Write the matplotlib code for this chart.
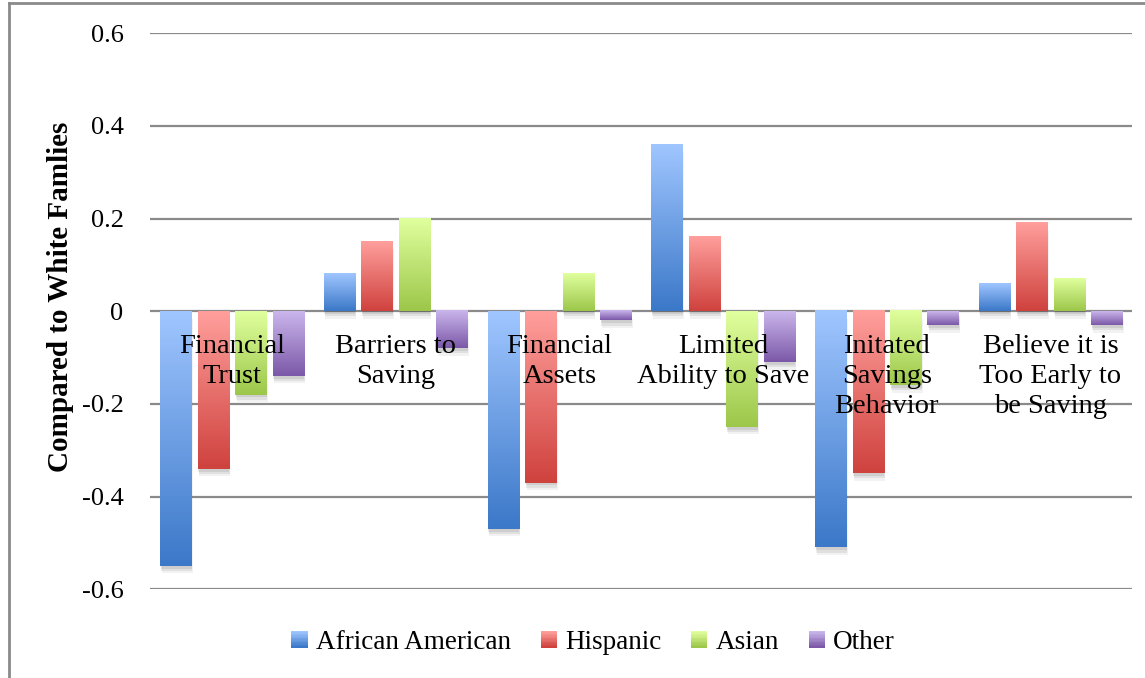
import matplotlib.pyplot as plt
import numpy as np
from matplotlib.colors import LinearSegmentedColormap
from matplotlib.patches import Rectangle
from matplotlib.legend_handler import HandlerBase
from matplotlib.lines import Line2D

categories = ['Financial\nTrust', 'Barriers to\nSaving', 'Financial\nAssets',
              'Limited\nAbility to Save', 'Initated\nSavings\nBehavior',
              'Believe it is\nToo Early to\nbe Saving']
groups = ['African American', 'Hispanic', 'Asian', 'Other']

african_american = [-0.55, 0.08, -0.47, 0.36, -0.51, 0.06]
hispanic = [-0.34, 0.15, -0.37, 0.16, -0.35, 0.19]
asian = [-0.18, 0.20, 0.08, -0.25, -0.16, 0.07]
other = [-0.14, -0.08, -0.02, -0.11, -0.03, -0.03]

yticks = [0.6, 0.4, 0.2, 0, -0.2, -0.4, -0.6]
ytick_labels = ['0.6', '0.4', '0.2', '0', '-0.2', '-0.4', '-0.6']

# light (top) -> dark (bottom) for each series
shades = [('#a0c6ff', '#3b78c8'),
          ('#ff9f9c', '#cf423e'),
          ('#e0ff9e', '#9cc74a'),
          ('#cbb6ec', '#7b58a8')]

plt.rcParams['font.family'] = ['Liberation Serif', 'DejaVu Serif']

fig = plt.figure(figsize=(11.45, 6.78), dpi=100)
ax = fig.add_axes([0.131, 0.131, 0.858, 0.820])

slot = 0.229
width = 0.19
grad = np.linspace(0, 1, 256).reshape(-1, 1)

series = [african_american, hispanic, asian, other]
for k, vals in enumerate(series):
    cmap = LinearSegmentedColormap.from_list(groups[k], list(shades[k]))
    for i, v in enumerate(vals):
        x0 = i + (k - 1.5) * slot - width / 2
        y0, y1 = min(0, v), max(0, v)
        # soft drop shadow
        for s, a in [(0.016, 0.05), (0.011, 0.07), (0.006, 0.08)]:
            ax.add_patch(Rectangle((x0 + s * 0.6, y0 - s), width, y1 - y0,
                                   color='k', alpha=a, lw=0, zorder=2))
        ax.imshow(grad, cmap=cmap, extent=[x0, x0 + width, y0, y1],
                  aspect='auto', origin='upper', zorder=3)

ax.set_xlim(-0.5, 5.5)
ax.set_ylim(-0.6, 0.6)
ax.set_xticks([])
ax.set_yticks(yticks)
ax.set_yticklabels(ytick_labels, fontsize=19)
ax.tick_params(axis='y', length=0, pad=19)
ax.yaxis.grid(True, color='#8a8a8a', lw=1.6)
ax.set_axisbelow(True)
for sp in ax.spines.values():
    sp.set_visible(False)
ax.patch.set_visible(False)

for i, lab in enumerate(categories):
    ax.text(i, -0.05, lab, ha='center', va='top', fontsize=20.5,
            linespacing=1.26, zorder=5)

fig.text(0.053, 0.562, 'Compared to White Famlies', rotation=90,
         ha='center', va='center', fontsize=21, fontweight='bold')


class Swatch:
    def __init__(self, light, dark):
        self.light = light
        self.dark = dark


class GradientHandler(HandlerBase):
    def create_artists(self, legend, orig_handle, xdescent, ydescent,
                       width, height, fontsize, trans):
        cmap = LinearSegmentedColormap.from_list(
            'sw', [orig_handle.light, orig_handle.dark])
        n = 12
        side = height * 0.95
        x = -xdescent + (width - side) / 2
        y = -ydescent + (height - side) / 2
        out = []
        for j in range(n):
            r = Rectangle((x, y + side * (n - 1 - j) / n), side, side / n + 0.3,
                          color=cmap(j / (n - 1)), lw=0, transform=trans)
            out.append(r)
        return out


handles = [Swatch(*s) for s in shades]
fig.legend(handles, groups, handler_map={Swatch: GradientHandler()},
           loc='center', bbox_to_anchor=(0.518, 0.052), ncol=4,
           frameon=False, fontsize=19.5, handlelength=0.6, handleheight=0.6,
           handletextpad=0.3, columnspacing=1.1)

# outer frame of the chart area
fig.add_artist(Line2D([0.008, 0.008], [0, 0.995], color='#8a8a8a', lw=2,
                      transform=fig.transFigure))
fig.add_artist(Line2D([0.008, 1], [0.995, 0.995], color='#8a8a8a', lw=2,
                      transform=fig.transFigure))

fig.savefig('out.png', dpi=100)
